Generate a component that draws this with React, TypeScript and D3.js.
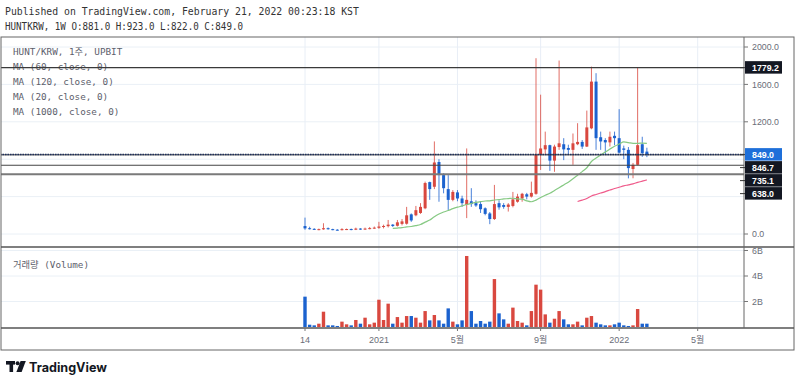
import React from "react";
import * as d3 from "d3";

// ---- data (weekly bars, HUNT/KRW, UPBIT) ----
const startWeek = "2020-09-14";
const opens = [85,62,55,45,50,62,52,46,42,48,53,46,58,49,56,60,66,75,84,100,88,108,110,210,200,225,275,555,505,770,630,480,365,445,380,310,350,330,320,275,220,160,330,310,290,300,345,380,425,400,430,845,905,950,785,930,960,920,900,960,985,935,1130,1630,1035,1005,980,1050,1025,915,900,695,740,960,881];
const highs = [175,78,62,58,115,70,56,52,62,58,58,68,62,68,75,80,130,100,150,106,150,160,290,220,300,330,560,560,990,800,650,630,470,470,410,915,490,360,345,285,235,525,360,330,330,450,430,440,440,560,1880,1490,1095,955,955,1855,1025,955,1075,1185,1005,1320,1790,1720,1095,1025,1095,1095,1335,945,930,760,1785,1040,923];
const lows = [45,48,44,40,45,46,40,38,38,42,40,42,44,44,50,55,55,60,70,75,80,92,100,130,190,215,265,365,480,345,435,257,350,350,290,170,290,290,225,200,105,150,260,270,240,285,335,345,370,390,420,685,855,675,665,900,790,845,740,950,910,930,1120,900,900,850,935,950,860,800,595,596,735,825,822];
const closes = [60,52,48,52,62,52,45,42,52,53,46,58,49,58,63,68,80,86,100,86,125,135,200,145,255,290,545,480,765,630,490,365,450,380,330,365,320,305,265,215,160,320,285,290,315,370,400,430,400,440,845,915,950,785,935,970,905,900,970,985,935,1140,1630,1025,990,980,1040,1025,870,900,705,740,950,865,849];
const volumesB = [2.38,0.18,0.13,0.26,1.2,0.13,0.13,0.08,0.42,0.21,0.13,0.55,0.26,0.73,0.21,0.34,2.14,0.55,1.83,0.26,0.78,0.34,0.86,0.86,0.73,0.34,1.25,0.52,0.94,0.52,0.26,1.46,0.42,0.21,0.52,5.57,1.25,0.26,0.47,0.26,0.42,3.76,1.07,0.6,0.26,1.52,0.47,0.34,0.13,1.25,3.32,2.93,0.99,0.34,0.65,1.25,0.6,0.21,0.21,0.42,0.13,0.73,0.86,0.34,0.21,0.13,0.13,0.21,0.34,0.13,0.08,0.13,1.41,0.26,0.26];

const priceTicks = [0, 400, 800, 1200, 1600, 2000];
const priceTickLabels = ["0.0", "", "", "1200.0", "1600.0", "2000.0"];
const volTicks = [2, 4, 6];
const volTickLabels = ["2B", "4B", "6B"];
const timeTickIndex = [0, 16, 33, 51, 68, 85];
const timeTickLabels = ["14", "2021", "5월", "9월", "2022", "5월"];

const priceLines = [1779.2, 846.7, 735.1, 638.0];
const lastPrice = 849.0;
const legendRows = ["HUNT/KRW, 1주, UPBIT", "MA (60, close, 0)", "MA (120, close, 0)", "MA (20, close, 0)", "MA (1000, close, 0)"];
const maPeriods = [20, 60];
const maColors = ["#86c983", "#ef5a8a"];

const UP = "#d9483f";
const DOWN = "#1b62cf";

function movingAverage(period: number) {
  const out: { i: number; v: number }[] = [];
  for (let i = period - 1; i < closes.length; i++) {
    out.push({ i, v: d3.mean(closes.slice(i - period + 1, i + 1)) as number });
  }
  return out;
}

export default function App() {
  const W = 800, H = 383;
  const plotRight = 744;
  const frameRight = 794;
  const paneTop = 37, paneSep = 247, volBottom = 328, frameBottom = 350;

  const x = d3.scaleLinear().domain([0, 74]).range([305, 305 + 74 * 4.62]);
  const y = d3.scaleLinear().domain([0, 2000]).range([234, 47]);
  const yv = d3.scaleLinear().domain([0, 6]).range([327, 250.5]);

  const bodyW = 3;
  const volW = 3.4;
  const mono = "'DejaVu Sans Mono', 'Noto Sans CJK KR', monospace";
  const sans = "'Liberation Sans', Arial, sans-serif";

  const line = d3.line<{ i: number; v: number }>().x(d => x(d.i)).y(d => y(d.v)).curve(d3.curveMonotoneX);

  // price labels with collision avoidance
  const labels = [
    { v: lastPrice, bg: "#1e6fd9" },
    ...priceLines.map(v => ({ v, bg: "#131722" })),
  ]
    .map(l => ({ ...l, y: y(l.v) }))
    .sort((a, b) => a.y - b.y);
  const labelH = 13;
  for (let k = 1; k < labels.length; k++) {
    if (labels[k].y < labels[k - 1].y + labelH) labels[k].y = labels[k - 1].y + labelH;
  }

  return (
    <svg width={W} height={H} style={{ position: "absolute", left: 0, top: 0, background: "#fff" }}>
      <rect x={0} y={0} width={W} height={H} fill="#fff" />
      {/* header */}
      <text x={5} y={14.5} fontFamily={mono} fontSize={9.8} fill="#333">Published on TradingView.com, February 21, 2022 00:23:18 KST</text>
      <text x={5} y={29.5} fontFamily={mono} fontSize={9.8} fill="#333" textLength={238} lengthAdjust="spacingAndGlyphs">HUNTKRW, 1W O:881.0 H:923.0 L:822.0 C:849.0</text>

      <defs>
        <clipPath id="pricePane"><rect x={1} y={paneTop} width={plotRight - 1} height={paneSep - paneTop} /></clipPath>
        <clipPath id="volPane"><rect x={1} y={paneSep} width={plotRight - 1} height={volBottom - paneSep} /></clipPath>
      </defs>

      {/* grid */}
      <g clipPath="url(#pricePane)">
        {priceTicks.map(t => (
          <line key={"pg" + t} x1={0} x2={plotRight} y1={y(t)} y2={y(t)} stroke="#eaf0f6" />
        ))}
        {timeTickIndex.map(i => (
          <line key={"vg" + i} x1={x(i)} x2={x(i)} y1={paneTop} y2={paneSep} stroke="#e8eef6" />
        ))}
      </g>
      <g clipPath="url(#volPane)">
        {volTicks.map(t => (
          <line key={"vgl" + t} x1={0} x2={plotRight} y1={yv(t)} y2={yv(t)} stroke="#eaf0f6" />
        ))}
        {timeTickIndex.map(i => (
          <line key={"vvg" + i} x1={x(i)} x2={x(i)} y1={paneSep} y2={volBottom} stroke="#e8eef6" />
        ))}
      </g>

      {/* legend */}
      {legendRows.map((r, k) => (
        <text key={r} x={13} y={54.5 + k * 15} fontFamily={mono} fontSize={9.3} fill="#5d606b">{r}</text>
      ))}
      <text x={13} y={267.5} fontFamily={mono} fontSize={9.3} fill="#5d606b">거래량 (Volume)</text>

      {/* candles */}
      <g clipPath="url(#pricePane)">
        {closes.map((c, i) => {
          const o = opens[i];
          const up = c >= o;
          const col = up ? UP : DOWN;
          const top = y(Math.max(o, c));
          const bh = Math.max(1, Math.abs(y(o) - y(c)));
          return (
            <g key={"c" + i}>
              <line x1={x(i)} x2={x(i)} y1={y(highs[i])} y2={y(lows[i])} stroke={col} strokeWidth={1} strokeOpacity={0.8} />
              <rect x={x(i) - bodyW / 2} y={top} width={bodyW} height={bh} fill={col} />
            </g>
          );
        })}
        {maPeriods.map((p, k) => (
          <path key={"ma" + p} d={line(movingAverage(p)) || ""} fill="none" stroke={maColors[k]} strokeWidth={1.2} />
        ))}
        {/* horizontal price lines */}
        <line x1={0} x2={plotRight} y1={y(priceLines[0])} y2={y(priceLines[0])} stroke="#3a3a3a" strokeWidth={1.2} />
        <line x1={0} x2={plotRight} y1={y(priceLines[1])} y2={y(priceLines[1])} stroke="#3a3a3a" strokeWidth={1} />
        <line x1={0} x2={plotRight} y1={y(priceLines[2])} y2={y(priceLines[2])} stroke="#444" strokeWidth={1.2} />
        <line x1={0} x2={plotRight} y1={y(priceLines[3])} y2={y(priceLines[3])} stroke="#7a7a7a" strokeWidth={2} />
        <line x1={0} x2={plotRight} y1={y(lastPrice)} y2={y(lastPrice)} stroke="#1d2f5c" strokeWidth={1.5} strokeDasharray="1.5 1" />
      </g>

      {/* volume */}
      <g clipPath="url(#volPane)">
        {volumesB.map((v, i) => {
          const col = closes[i] >= opens[i] ? UP : DOWN;
          return <rect key={"v" + i} x={x(i) - volW / 2} y={yv(v)} width={volW} height={yv(0) - yv(v)} fill={col} />;
        })}
      </g>

      {/* frames */}
      <rect x={1} y={paneTop} width={frameRight - 1} height={frameBottom - paneTop} fill="none" stroke="#666" strokeWidth={1} />
      <line x1={1} x2={frameRight} y1={paneSep} y2={paneSep} stroke="#555" strokeWidth={1.3} />
      <line x1={1} x2={frameRight} y1={volBottom} y2={volBottom} stroke="#555" strokeWidth={1.3} />
      <line x1={plotRight} x2={plotRight} y1={paneTop} y2={volBottom} stroke="#666" strokeWidth={1} />

      {/* price axis */}
      {priceTicks.map((t, k) => priceTickLabels[k] ? (
        <g key={"pt" + t}>
          <line x1={plotRight} x2={plotRight + 4} y1={y(t)} y2={y(t)} stroke="#777" />
          <text x={752} y={y(t) + 3.2} fontFamily={sans} fontSize={8.8} fill="#6a6d78">{priceTickLabels[k]}</text>
        </g>
      ) : null)}
      {volTicks.map((t, k) => (
        <g key={"vt" + t}>
          <line x1={plotRight} x2={plotRight + 4} y1={yv(t)} y2={yv(t)} stroke="#777" />
          <text x={752} y={yv(t) + 3.2} fontFamily={sans} fontSize={8.8} fill="#6a6d78">{volTickLabels[k]}</text>
        </g>
      ))}
      {labels.map(l => (
        <g key={"lab" + l.v}>
          <line x1={plotRight - 4} x2={plotRight + 2} y1={l.y} y2={l.y} stroke="#333" />
          <rect x={plotRight + 1} y={l.y - labelH / 2} width={37} height={labelH - 0.5} fill={l.bg} />
          <text x={752} y={l.y + 3.3} fontFamily={sans} fontSize={8.8} fontWeight="bold" fill="#fff">{l.v.toFixed(1)}</text>
        </g>
      ))}

      {/* time axis */}
      {timeTickIndex.map((i, k) => (
        <g key={"tt" + i}>
          <line x1={x(i)} x2={x(i)} y1={volBottom} y2={volBottom + 3} stroke="#777" />
          <text x={x(i)} y={342.5} textAnchor="middle" fontFamily={"'Liberation Sans', 'Noto Sans CJK KR', sans-serif"} fontSize={9} fill="#6a6d78">{timeTickLabels[k]}</text>
        </g>
      ))}

      {/* logo */}
      <g fill="#131722">
        <rect x={6} y={361} width={9} height={3.6} />
        <rect x={9.5} y={361} width={3.6} height={11} />
        <circle cx={17.6} cy={363.2} r={2} />
        <path d="M20.6 361 L25.8 361 L21.6 372 L16.4 372 Z" />
        <text x={29} y={372} fontFamily="Inter, 'Open Sans', sans-serif" fontWeight="bold" fontSize={12.6}>TradingView</text>
      </g>
    </svg>
  );
}
